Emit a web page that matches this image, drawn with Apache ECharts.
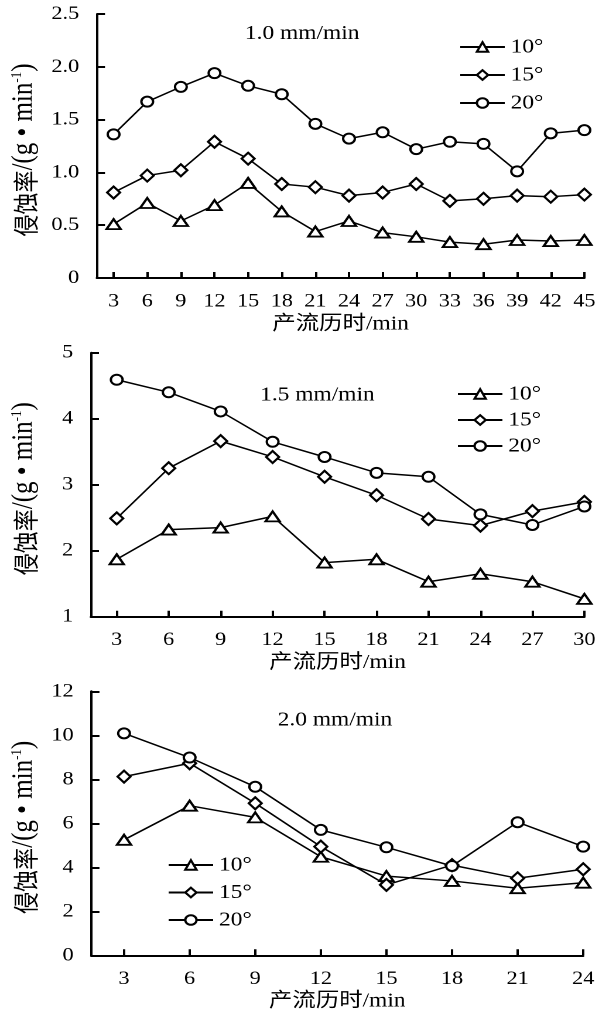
<!DOCTYPE html>
<html>
<head>
<meta charset="utf-8">
<script src="https://cdn.jsdelivr.net/npm/echarts@6/dist/echarts.min.js"></script>
<style>
html,body{margin:0;padding:0;background:#fff;overflow:hidden;}
/* the reference figure is horizontally stretched; draw at 526px and stretch to 616px */
#c{width:526px;height:1013px;transform:scaleX(1.1711);transform-origin:0 0;}
</style>
</head>
<body>
<div id="c"></div>
<script>
// ---- data ----
const seriesNames = ['10°', '15°', '20°'];
const panelTitles = ['1.0 mm/min', '1.5 mm/min', '2.0 mm/min'];

const x1 = [3, 6, 9, 12, 15, 18, 21, 24, 27, 30, 33, 36, 39, 42, 45];
const p1_10 = [0.51, 0.71, 0.54, 0.69, 0.90, 0.63, 0.44, 0.54, 0.43, 0.39, 0.34, 0.32, 0.36, 0.35, 0.36];
const p1_15 = [0.81, 0.97, 1.02, 1.29, 1.13, 0.89, 0.86, 0.78, 0.81, 0.89, 0.73, 0.75, 0.78, 0.77, 0.79];
const p1_20 = [1.36, 1.67, 1.81, 1.94, 1.82, 1.74, 1.46, 1.32, 1.38, 1.22, 1.29, 1.27, 1.01, 1.37, 1.40];

const x2 = [3, 6, 9, 12, 15, 18, 21, 24, 27, 30];
const p2_10 = [1.87, 2.32, 2.35, 2.52, 1.82, 1.87, 1.53, 1.65, 1.53, 1.27];
const p2_15 = [2.49, 3.25, 3.66, 3.42, 3.12, 2.84, 2.48, 2.38, 2.60, 2.74];
const p2_20 = [4.59, 4.40, 4.11, 3.65, 3.42, 3.18, 3.12, 2.55, 2.39, 2.67];

const x3 = [3, 6, 9, 12, 15, 18, 21, 24];
const p3_10 = [5.25, 6.80, 6.27, 4.48, 3.60, 3.38, 3.05, 3.30];
const p3_15 = [8.12, 8.73, 6.91, 4.94, 3.20, 4.10, 3.50, 3.91];
const p3_20 = [10.09, 8.99, 7.66, 5.70, 4.91, 4.06, 6.05, 4.94];

const yTicks1 = [0, 0.5, 1.0, 1.5, 2.0, 2.5];
const yTicks2 = [1, 2, 3, 4, 5];
const yTicks3 = [0, 2, 4, 6, 8, 10, 12];

const xAxisName = '产流历时/min';
// ---- end data ----

const FONT = '"Liberation Serif", "Times New Roman", "Noto Sans CJK SC", serif';
const CJK = '"Noto Sans CJK SC", serif';
const symbols = ['emptyTriangle', 'emptyDiamond', 'emptyCircle'];
const symSizes = [[12, 10], [11, 12], 10];

const panels = [
  {x: x1, ys: [p1_10, p1_15, p1_20], yt: yTicks1, dec: 1, top: 14, width: 424,
   title: {left: 253, top: 19}, legend: {left: 392, top: 37, gap: 8}},
  {x: x2, ys: [p2_10, p2_15, p2_20], yt: yTicks2, dec: 0, top: 352.7, width: 424,
   title: {left: 266, top: 380}, legend: {left: 390, top: 384, gap: 6}},
  {x: x3, ys: [p3_10, p3_15, p3_20], yt: yTicks3, dec: 0, top: 691.3, width: 423,
   title: {left: 281, top: 705}, legend: {left: 143, top: 855, gap: 7.5}}
];

const grid = [], xAxis = [], yAxis = [], series = [], title = [], legend = [];
panels.forEach((p, i) => {
  grid.push({left: 75, top: p.top, width: p.width, height: 264});
  title.push({
    text: panelTitles[i], left: p.title.left, top: p.title.top, textAlign: 'center',
    textStyle: {fontFamily: FONT, fontSize: 20, fontWeight: 'normal', color: '#000'}
  });
  legend.push({
    orient: 'vertical', left: p.legend.left, top: p.legend.top, itemGap: p.legend.gap,
    padding: 0, itemWidth: 38, itemHeight: 12, data: seriesNames.slice(), selectedMode: false,
    textStyle: {fontFamily: FONT, fontSize: 20, color: '#000', lineHeight: 20}
  });
  const step = p.x[1] - p.x[0];
  xAxis.push({
    gridIndex: i, type: 'value', min: p.x[0] - step / 2, max: p.x[p.x.length - 1],
    name: xAxisName, nameLocation: 'middle', nameGap: 36,
    nameTextStyle: {fontFamily: FONT, fontSize: 20, color: '#000'},
    axisLine: {show: true, onZero: false, lineStyle: {color: '#000', width: 2}},
    axisTick: {show: true, inside: true, length: 6, customValues: p.x, lineStyle: {color: '#000', width: 2}},
    axisLabel: {customValues: p.x, margin: 14, fontFamily: FONT, fontSize: 19, color: '#000'},
    splitLine: {show: false}
  });
  const yt = p.yt;
  yAxis.push({
    gridIndex: i, type: 'value', min: yt[0], max: yt[yt.length - 1], interval: yt[1] - yt[0],
    name: '{c|侵蚀率}{a|/(g • min}{s|-1}{a|)}', nameLocation: 'middle', nameGap: 44.5, nameRotate: 90,
    nameTextStyle: {
      color: '#000', padding: [0, 8, 0, 0],
      rich: {
        c: {fontFamily: CJK, fontSize: 22, color: '#000', verticalAlign: 'bottom', lineHeight: 25},
        a: {fontFamily: FONT, fontSize: 25, color: '#000', verticalAlign: 'bottom', lineHeight: 25},
        s: {fontFamily: FONT, fontSize: 13, color: '#000', verticalAlign: 'top', lineHeight: 25}
      }
    },
    axisLine: {show: true, lineStyle: {color: '#000', width: 2}},
    axisTick: {show: true, inside: true, length: 7, lineStyle: {color: '#000', width: 2}},
    axisLabel: {
      margin: 15, fontFamily: FONT, fontSize: 19, color: '#000',
      formatter: v => (v === 0 ? '0' : v.toFixed(p.dec))
    },
    splitLine: {show: false}
  });
  p.ys.forEach((vals, k) => {
    series.push({
      name: seriesNames[k], type: 'line', xAxisIndex: i, yAxisIndex: i,
      data: p.x.map((xv, j) => [xv, vals[j]]),
      symbol: symbols[k], symbolSize: symSizes[k],
      lineStyle: {color: '#000', width: 1.5},
      itemStyle: {color: '#000', borderColor: '#000', borderWidth: 1.5},
      animation: false, z: 3 + k
    });
  });
});

const chart = echarts.init(document.getElementById('c'), null, {renderer: 'canvas', devicePixelRatio: 2});
chart.setOption({
  backgroundColor: '#fff', animation: false,
  grid, xAxis, yAxis, series, title, legend
});
</script>
</body>
</html>
